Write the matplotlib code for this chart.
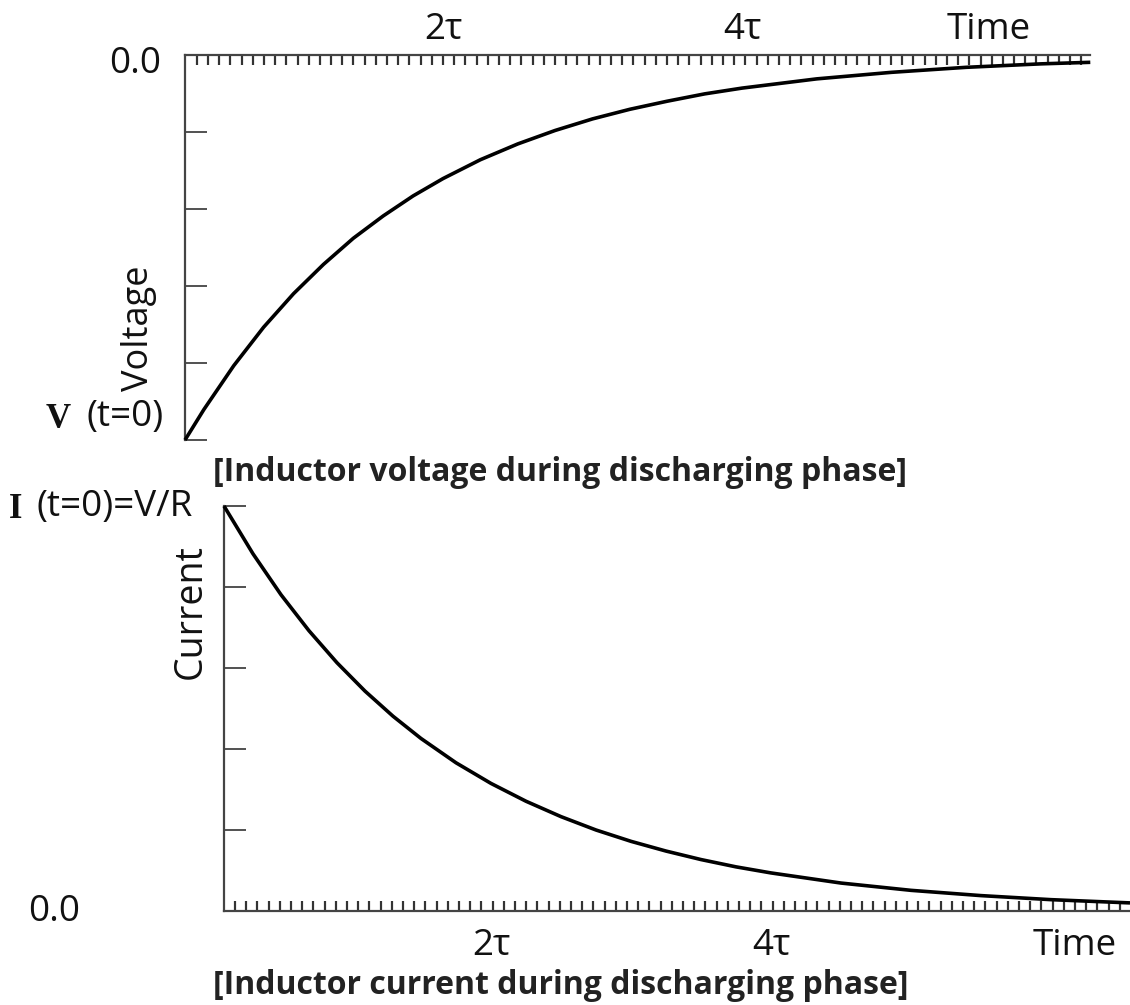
import numpy as np
import matplotlib
matplotlib.use("Agg")
import matplotlib.pyplot as plt

W, H, DPI = 1130, 1005, 100

# Inductor voltage while discharging (time in the units of the axis labels)
v_time = [0.274, 0.4, 0.6, 0.8, 1.0, 1.2, 1.4, 1.6, 1.8, 2.0, 2.25, 2.5,
          2.75, 3.0, 3.25, 3.5, 3.75, 4.0, 4.5, 5.0, 5.5, 6.0, 6.33]
v_vals = [-1.000, -0.921, -0.807, -0.707, -0.620, -0.544, -0.476, -0.418,
          -0.366, -0.321, -0.272, -0.231, -0.196, -0.166, -0.141, -0.120,
          -0.101, -0.086, -0.062, -0.045, -0.032, -0.023, -0.019]

# Inductor current while discharging
i_time = [0.093, 0.3, 0.5, 0.7, 0.9, 1.1, 1.3, 1.5, 1.75, 2.0, 2.25, 2.5,
          2.75, 3.0, 3.25, 3.5, 3.75, 4.0, 4.5, 5.0, 5.5, 6.0, 6.564]
i_vals = [1.000, 0.882, 0.781, 0.692, 0.613, 0.543, 0.481, 0.426, 0.366,
          0.315, 0.271, 0.233, 0.200, 0.172, 0.148, 0.127, 0.109, 0.094,
          0.069, 0.051, 0.038, 0.028, 0.020]

time_ticks_v = [2, 4, 5.65]
time_ticks_i = [2, 4, 6.17]
time_labels = ["2τ", "4τ", "Time"]

v_yticks = [-1.0, -0.8, -0.6, -0.4, -0.2]
i_yticks = [0.2, 0.4, 0.6, 0.8, 1.0]

SANS = ["Open Sans", "DejaVu Sans"]
SERIF = ["Liberation Serif", "DejaVu Serif"]
AX_COL = "#444444"
RUG_COL = "#333333"
TXT_COL = "#111111"
LBL_SIZE = 26.5
PT = 72.0 / DPI  # points per pixel

fig = plt.figure(figsize=(W / DPI, H / DPI), dpi=DPI)
fig.patch.set_facecolor("white")


def px_axes(left, top, right, bottom):
    return fig.add_axes([left / W, 1 - bottom / H, (right - left) / W,
                         (bottom - top) / H])


def ftext(x, y, s, **kw):
    fig.text(x / W, 1 - y / H, s, **kw)


def style_axes(ax, keep, rug, yticks):
    for side in ("left", "right", "top", "bottom"):
        ax.spines[side].set_visible(side in keep)
        ax.spines[side].set_color(AX_COL)
        ax.spines[side].set_linewidth(2.2 * PT)
    ax.set_xticks(rug, minor=True)
    ax.tick_params(axis="x", which="minor", direction="in", length=10 * PT,
                   width=2.2 * PT, color=RUG_COL)
    ax.tick_params(axis="x", which="major", length=0, labelsize=LBL_SIZE,
                   labelcolor=TXT_COL)
    ax.set_yticks(yticks)
    ax.set_yticklabels([])
    ax.tick_params(axis="y", which="major", direction="in", length=22 * PT,
                   width=2 * PT, color="#555555")
    ax.tick_params(axis="y", which="minor", length=0)
    for lab in ax.get_xticklabels():
        lab.set_family(SANS)
    ax.set_facecolor("none")


# --- voltage panel ---
ax1 = px_axes(185, 55, 1090, 440)
ax1.plot(v_time, v_vals, color="black", lw=3.6 * PT, clip_on=False,
         solid_capstyle="butt", zorder=3)
ax1.set_xlim(0.274, 6.328)
ax1.set_ylim(-1.0, 0.0)
ax1.xaxis.tick_top()
ax1.set_xticks(time_ticks_v)
ax1.set_xticklabels(time_labels)
style_axes(ax1, ("left", "top"), np.arange(0.3525, 6.33, 0.0749), v_yticks)
ax1.tick_params(axis="x", which="major", pad=5)

# --- current panel ---
ax2 = px_axes(224, 506, 1130, 911)
ax2.plot(i_time, i_vals, color="black", lw=3.6 * PT, clip_on=False,
         solid_capstyle="butt", zorder=3)
ax2.set_xlim(0.093, 6.564)
ax2.set_ylim(0.0, 1.0)
ax2.set_xticks(time_ticks_i)
ax2.set_xticklabels(time_labels)
style_axes(ax2, ("left", "bottom"), np.arange(0.171, 6.56, 0.08), i_yticks)
ax2.tick_params(axis="x", which="major", pad=12)

# --- axis annotations ---
lab_kw = dict(family=SANS, fontsize=LBL_SIZE, color=TXT_COL, va="center")
ftext(135, 64, "0.0", ha="center", **lab_kw)
ftext(54, 912, "0.0", ha="center", **lab_kw)

ser_kw = dict(family=SERIF, fontweight="bold", fontsize=25, color=TXT_COL,
              ha="left", va="center")
ftext(46, 419, "V", **ser_kw)
ftext(86, 417, "(t=0)", ha="left", **lab_kw)
ftext(9, 509, "I", **ser_kw)
ftext(37, 507, "(t=0)=V/R", ha="left", fontstretch="expanded", **lab_kw)

ftext(139, 328, "Voltage", ha="center", rotation=90, family=SANS,
      fontsize=26, color=TXT_COL, va="center")
ftext(191, 612, "Current", ha="center", rotation=90, family=SANS,
      fontsize=27, color=TXT_COL, va="center")

title_kw = dict(family=SANS, fontweight="bold", fontsize=23,
                color="#222222", ha="center", va="center")
ftext(560, 472, "[Inductor voltage during discharging phase]", **title_kw)
ftext(561, 985, "[Inductor current during discharging phase]", **title_kw)

fig.savefig("out.png", dpi=DPI, facecolor="white")
